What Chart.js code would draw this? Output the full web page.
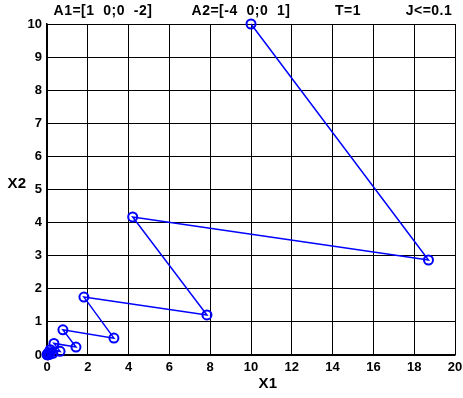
<!DOCTYPE html>
<html><head><meta charset="utf-8">
<script src="https://cdn.jsdelivr.net/npm/chart.js@4"></script>
<style>html,body{margin:0;padding:0;background:#fff}#wrap{width:463px;height:398px}</style>
</head><body><div id="wrap"><canvas id="c" width="463" height="398"></canvas></div>
<script>
const x1Values = [10, 18.7, 4.2, 7.84, 1.81, 3.28, 0.78, 1.42, 0.34, 0.64, 0.16, 0.29, 0.07, 0.13, 0.03, 0.06, 0.015, 0.03, 0.007];
const x2Values = [10, 2.87, 4.17, 1.21, 1.75, 0.51, 0.76, 0.24, 0.35, 0.11, 0.16, 0.05, 0.075, 0.022, 0.033, 0.01, 0.015, 0.005, 0.007];
const titleTexts = ["A1=[1  0;0  -2]", "A2=[-4  0;0  1]", "T=1", "J<=0.1"];
const titleX = [103, 241, 348, 429];
const xTicks = [0,2,4,6,8,10,12,14,16,18,20];
const yTicks = [0,1,2,3,4,5,6,7,8,9,10];

const pts = x1Values.map((v,i)=>({x:v,y:x2Values[i]}));
const FAM = '"Liberation Sans", Arial, sans-serif';

const textPlugin = {
  id:'texts',
  afterDraw(chart){
    const ctx = chart.ctx;
    ctx.save();
    ctx.fillStyle = '#000';
    ctx.font = 'bold 14px ' + FAM;
    ctx.letterSpacing = '0.5px';
    ctx.textAlign = 'center';
    ctx.textBaseline = 'middle';
    titleTexts.forEach((t,i)=>ctx.fillText(t, titleX[i], 11));
    ctx.font = 'bold 15px ' + FAM;
    ctx.letterSpacing = '0.3px';
    ctx.fillText('X1', 268, 384);
    ctx.fillText('X2', 17, 184);
    ctx.restore();
  }
};

new Chart(document.getElementById('c'), {
  type:'scatter',
  data:{datasets:[{
    data:pts,
    showLine:true,
    borderColor:'#0000ff',
    borderWidth:1.5,
    pointRadius:4.5,
    pointBorderWidth:2,
    pointBorderColor:'#0000ff',
    pointBackgroundColor:'rgba(0,0,0,0)',
    tension:0,
    clip:false
  }]},
  options:{
    responsive:false,
    animation:false,
    devicePixelRatio:1,
    layout:{padding:{left:0,right:8,top:24,bottom:0}},
    plugins:{legend:{display:false},tooltip:{enabled:false}},
    scales:{
      x:{type:'linear',min:0,max:20,
        afterBuildTicks(s){s.ticks = xTicks.map(v=>({value:v}));},
        afterFit(s){s.height=43; s.paddingRight=8; s.paddingLeft=0;},
        grid:{color:'#000',lineWidth:1,drawTicks:false},
        border:{color:'#000',width:1.5},
        ticks:{color:'#000',font:{family:FAM,size:13,weight:'bold'},padding:5,maxRotation:0,autoSkip:false}
      },
      y:{type:'linear',min:0,max:10,
        afterBuildTicks(s){s.ticks = yTicks.map(v=>({value:v}));},
        afterFit(s){s.width=47; s.paddingTop=0; s.paddingBottom=0;},
        grid:{color:'#000',lineWidth:1,drawTicks:false},
        border:{color:'#000',width:1.5},
        ticks:{color:'#000',font:{family:FAM,size:13,weight:'bold'},padding:5,autoSkip:false}
      }
    }
  },
  plugins:[textPlugin]
});
</script></body></html>
